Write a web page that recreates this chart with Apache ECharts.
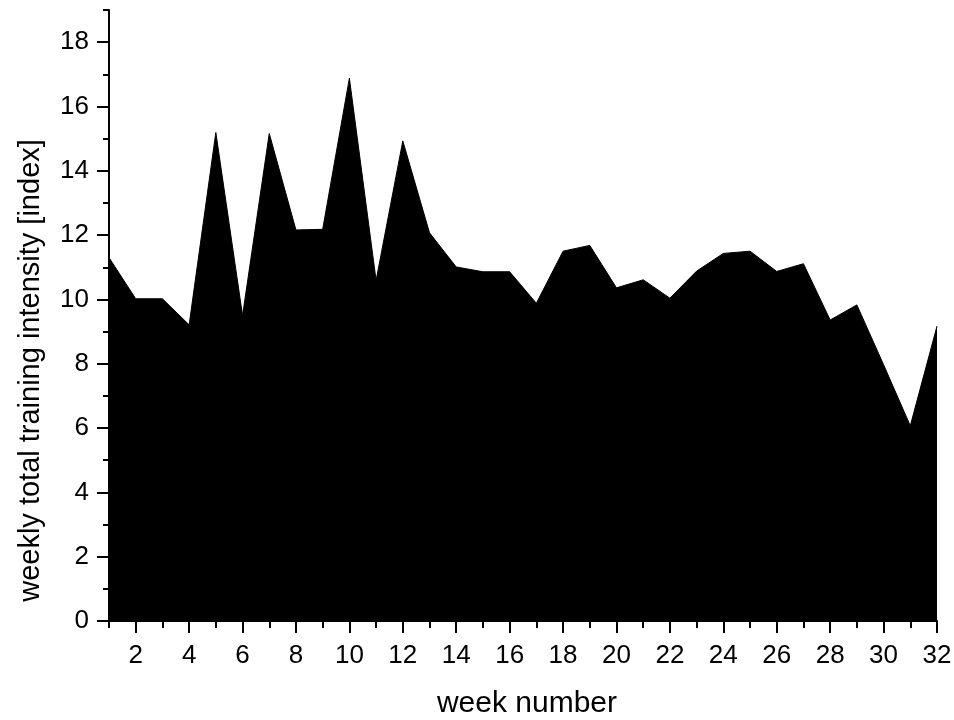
<!DOCTYPE html>
<html>
<head>
<meta charset="utf-8">
<script src="https://cdn.jsdelivr.net/npm/echarts@6/dist/echarts.min.js"></script>
<style>html,body{margin:0;padding:0;background:#fff}#c{width:954px;height:720px}</style>
</head>
<body>
<div id="c"></div>
<script>
var weeks = [1,2,3,4,5,6,7,8,9,10,11,12,13,14,15,16,17,18,19,20,21,22,23,24,25,26,27,28,29,30,31,32];
var intensity = [11.3, 10.02, 10.02, 9.21, 15.19, 9.5, 15.16, 12.16, 12.18, 16.88, 10.59, 14.93, 12.07, 11.01, 10.86, 10.86, 9.88, 11.5, 11.68, 10.36, 10.61, 10.04, 10.88, 11.43, 11.5, 10.87, 11.11, 9.36, 9.83, 7.97, 6.07, 9.17];
var xTickLabels = [2,4,6,8,10,12,14,16,18,20,22,24,26,28,30,32];
var yTickLabels = [0,2,4,6,8,10,12,14,16,18];
var xTitle = 'week number';
var yTitle = 'weekly total training intensity [index]';

var FONT = "'Liberation Sans', Arial, sans-serif";
var seriesData = weeks.map(function (w, i) { return [w, intensity[i]]; });

var chart = echarts.init(document.getElementById('c'), null, {renderer: 'canvas'});
chart.setOption({
  animation: false,
  backgroundColor: '#fff',
  grid: {left: 109, right: 17, top: 10, bottom: 99, containLabel: false, outerBoundsMode: 'none'},
  xAxis: [
    {
      type: 'value', position: 'bottom', min: 1, max: 32, interval: 1,
      axisLine: {show: true, onZero: false, lineStyle: {color: '#000', width: 2}},
      axisTick: {show: true, inside: false, length: 7, lineStyle: {color: '#000', width: 2}},
      axisLabel: {show: false},
      splitLine: {show: false},
      name: xTitle, nameLocation: 'middle', nameGap: 68,
      nameTextStyle: {color: '#000', fontSize: 30, fontFamily: FONT, padding: [0, 0, 0, 8]}
    },
    {
      type: 'value', position: 'bottom', min: 1, max: 32,
      axisLine: {show: false, onZero: false},
      axisTick: {show: true, inside: false, length: 12, customValues: xTickLabels, lineStyle: {color: '#000', width: 2}},
      axisLabel: {show: true, customValues: xTickLabels, margin: 22, color: '#000', fontSize: 26, fontFamily: FONT},
      splitLine: {show: false}
    }
  ],
  yAxis: [
    {
      type: 'value', position: 'left', min: 0, max: 19, interval: 1,
      axisLine: {show: true, onZero: false, lineStyle: {color: '#000', width: 2}},
      axisTick: {show: true, inside: false, length: 6, lineStyle: {color: '#000', width: 2}},
      axisLabel: {show: false},
      splitLine: {show: false},
      name: yTitle, nameLocation: 'middle', nameGap: 64, nameRotate: 90,
      nameTextStyle: {color: '#000', fontSize: 29, fontFamily: FONT, padding: [0, 110, 0, 0]}
    },
    {
      type: 'value', position: 'left', min: 0, max: 19,
      axisLine: {show: false, onZero: false},
      axisTick: {show: true, inside: false, length: 12, customValues: yTickLabels, lineStyle: {color: '#000', width: 2}},
      axisLabel: {show: true, customValues: yTickLabels, margin: 20, color: '#000', fontSize: 26, fontFamily: FONT},
      splitLine: {show: false}
    }
  ],
  series: [{
    type: 'line',
    xAxisIndex: 0, yAxisIndex: 0,
    data: seriesData,
    symbol: 'none',
    lineStyle: {color: '#000', width: 1},
    areaStyle: {color: '#000', opacity: 1},
    z: 1
  }]
});
</script>
</body>
</html>
